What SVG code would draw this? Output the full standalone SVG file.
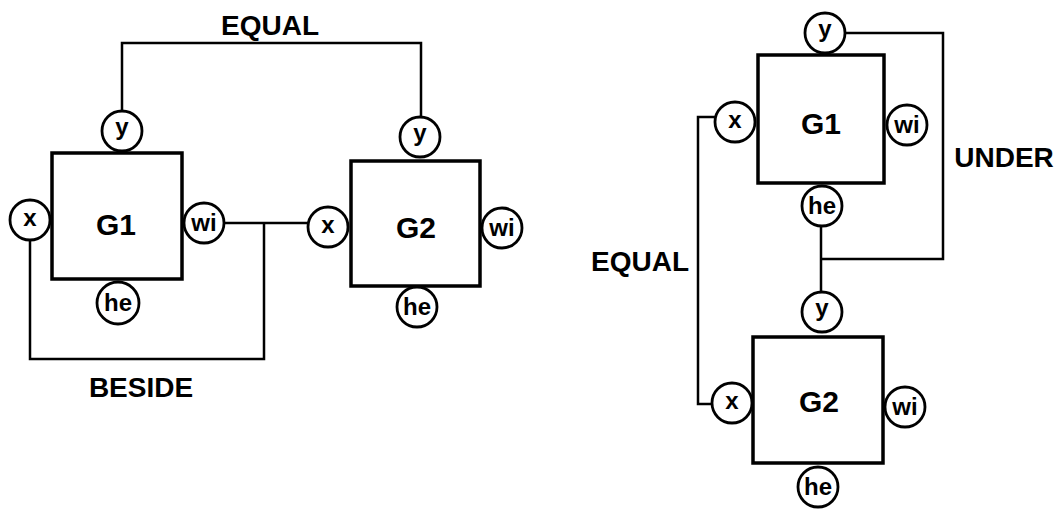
<svg xmlns="http://www.w3.org/2000/svg" width="1061" height="509" viewBox="0 0 1061 509">
<style>
.box{fill:none;stroke:#000;stroke-width:3.5}
.port{fill:#fff;stroke:#000;stroke-width:2.8}
.wire{fill:none;stroke:#000;stroke-width:2.5}
.big{font-family:"Liberation Sans",Arial,sans-serif;font-weight:bold;font-size:30px;fill:#000;text-anchor:middle}
.lbl{font-family:"Liberation Sans",Arial,sans-serif;font-weight:bold;font-size:28px;fill:#000;text-anchor:middle}
.sm{font-family:"Liberation Sans",Arial,sans-serif;font-weight:bold;font-size:24px;fill:#000;text-anchor:middle}
</style>
<rect width="1061" height="509" fill="#fff"/>
<g id="connectors">
  <polyline class="wire" points="122,110 122,43 421,43 421,117"/>
  <polyline class="wire" points="224,223 308,223"/>
  <polyline class="wire" points="30,240 30,359 264,359 264,223"/>
  <polyline class="wire" points="845,33 943,33 943,259 821,259"/>
  <polyline class="wire" points="821,226 821,292"/>
  <polyline class="wire" points="715,117 698,117 698,404 712,404"/>
</g>
<g id="labels">
  <text class="lbl" x="270" y="35" font-size="30">EQUAL</text>
  <text class="lbl" x="141" y="397">BESIDE</text>
  <text class="lbl" x="640" y="271">EQUAL</text>
  <text class="lbl" x="1004" y="167">UNDER</text>
</g>
<g id="left-G1">
  <rect class="box" x="52" y="153" width="130" height="126"/>
  <text class="big" x="116" y="235">G1</text>
  <circle class="port" cx="122" cy="131" r="20"/><text class="sm" x="122" y="135">y</text>
  <circle class="port" cx="30" cy="220" r="20"/><text class="sm" x="30" y="226">x</text>
  <circle class="port" cx="204" cy="223" r="20"/><text class="sm" x="204" y="231">wi</text>
  <circle class="port" cx="118" cy="303" r="21"/><text class="sm" x="118" y="311">he</text>
</g>
<g id="left-G2">
  <rect class="box" x="351" y="161" width="129" height="125"/>
  <text class="big" x="416" y="238">G2</text>
  <circle class="port" cx="420" cy="137" r="20"/><text class="sm" x="420" y="141">y</text>
  <circle class="port" cx="328" cy="227" r="20"/><text class="sm" x="328" y="233">x</text>
  <circle class="port" cx="502" cy="228" r="20"/><text class="sm" x="502" y="236">wi</text>
  <circle class="port" cx="417" cy="307" r="20"/><text class="sm" x="417" y="315">he</text>
</g>
<g id="right-G1">
  <rect class="box" x="758" y="55" width="126" height="128"/>
  <text class="big" x="821" y="134">G1</text>
  <circle class="port" cx="825" cy="33" r="20"/><text class="sm" x="825" y="37">y</text>
  <circle class="port" cx="735" cy="122" r="20"/><text class="sm" x="735" y="128">x</text>
  <circle class="port" cx="907" cy="125" r="20"/><text class="sm" x="907" y="133">wi</text>
  <circle class="port" cx="822" cy="206" r="20"/><text class="sm" x="822" y="214">he</text>
</g>
<g id="right-G2">
  <rect class="box" x="753" y="337" width="130" height="126"/>
  <text class="big" x="819" y="412">G2</text>
  <circle class="port" cx="822" cy="312" r="20"/><text class="sm" x="822" y="316">y</text>
  <circle class="port" cx="732" cy="403" r="20"/><text class="sm" x="732" y="409">x</text>
  <circle class="port" cx="905" cy="407" r="20"/><text class="sm" x="905" y="415">wi</text>
  <circle class="port" cx="818" cy="487" r="20"/><text class="sm" x="818" y="495">he</text>
</g>
</svg>
